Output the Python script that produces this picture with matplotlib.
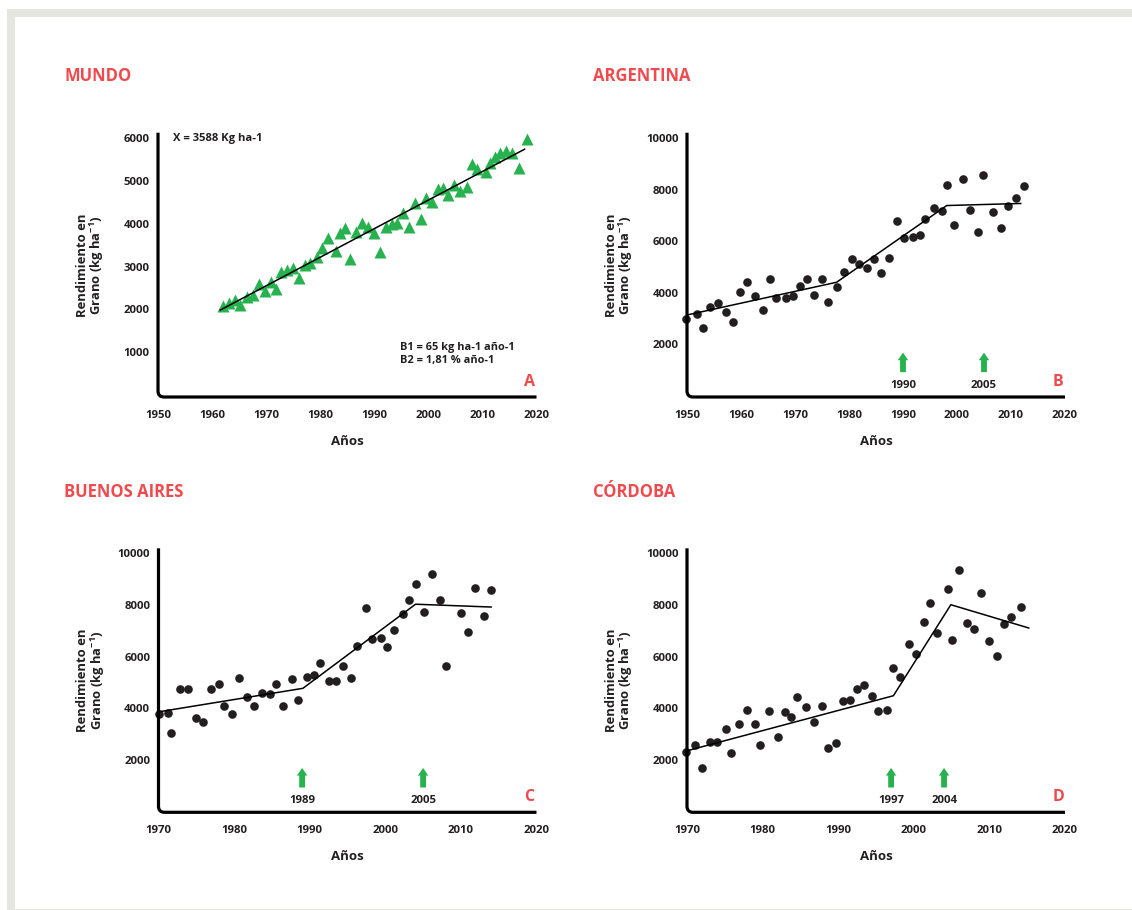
import matplotlib
matplotlib.use("Agg")
import matplotlib.pyplot as plt
import matplotlib.transforms as mtransforms
from matplotlib.path import Path
from matplotlib.patches import PathPatch, Rectangle

plt.rcParams["font.family"] = ["Open Sans", "DejaVu Sans"]
plt.rcParams["font.weight"] = "bold"
plt.rcParams["mathtext.fontset"] = "custom"
plt.rcParams["mathtext.rm"] = "Open Sans:bold"
plt.rcParams["mathtext.it"] = "Open Sans:bold"
plt.rcParams["mathtext.bf"] = "Open Sans:bold"

# ---------------- data ----------------
# A - Mundo (world maize grain yield, kg/ha)
mundo_years = [1962.1, 1963.2, 1964.3, 1965.2, 1966.4, 1967.6, 1968.6, 1969.7, 1970.9, 1971.8,
               1972.8, 1973.9, 1974.9, 1976.0, 1977.2, 1978.1, 1979.4, 1980.3, 1981.5, 1982.9,
               1983.6, 1984.6, 1985.6, 1986.7, 1987.8, 1988.9, 1990.0, 1991.1, 1992.2, 1993.3,
               1994.2, 1995.4, 1996.5, 1997.6, 1998.6, 1999.6, 2000.7, 2001.7, 2002.8, 2003.6,
               2004.8, 2005.9, 2007.2, 2008.1, 2009.0, 2010.7, 2011.4, 2012.4, 2013.3, 2014.4,
               2015.5, 2016.7, 2018.3]
mundo_yield = [2077, 2140, 2218, 2101, 2295, 2335, 2585, 2428, 2646, 2475,
               2866, 2920, 2959, 2725, 3037, 3076, 3216, 3427, 3661, 3364,
               3792, 3909, 3177, 3801, 4026, 3932, 3777, 3348, 3918, 3988,
               4011, 4245, 3932, 4479, 4105, 4610, 4503, 4814, 4830, 4674,
               4907, 4775, 4861, 5392, 5282, 5220, 5415, 5555, 5649, 5703,
               5649, 5313, 5977]
mundo_fit_x = [1961.5, 2017.8]
mundo_fit_y = [1984, 5745]

# B - Argentina
arg_years = [1949.9, 1951.9, 1953.0, 1954.2, 1955.7, 1957.2, 1958.5, 1959.9, 1961.2, 1962.6,
             1964.0, 1965.4, 1966.5, 1968.3, 1969.6, 1970.9, 1972.2, 1973.6, 1975.0, 1976.1,
             1977.7, 1979.0, 1980.5, 1981.9, 1983.3, 1984.6, 1986.0, 1987.5, 1988.8, 1990.1,
             1991.9, 1993.1, 1994.1, 1995.7, 1997.2, 1998.1, 1999.4, 2001.1, 2002.5, 2003.8,
             2004.8, 2006.6, 2008.1, 2009.4, 2011.0, 2012.5]
arg_yield = [2972, 3179, 2635, 3451, 3607, 3257, 2868, 4022, 4411, 3854,
             3322, 4528, 3777, 3777, 3867, 4256, 4516, 3906, 4528, 3633,
             4204, 4800, 5294, 5111, 4968, 5306, 4761, 5333, 6783, 6134,
             6173, 6239, 6873, 7277, 7184, 8184, 6615, 8429, 7223, 6367,
             8572, 7145, 6500, 7379, 7666, 8156]
arg_fit_x = [1950.0, 1977.7, 1998.1, 2011.8]
arg_fit_y = [3128, 4400, 7385, 7465]
arg_breaks = [1990, 2005]

# C - Buenos Aires
ba_years = [1970.1, 1971.2, 1971.7, 1972.9, 1973.9, 1974.9, 1975.9, 1976.9, 1978.0, 1978.6,
            1979.7, 1980.6, 1981.7, 1982.6, 1983.7, 1984.7, 1985.6, 1986.5, 1987.6, 1988.4,
            1989.6, 1990.6, 1991.4, 1992.5, 1993.5, 1994.4, 1995.5, 1996.3, 1997.5, 1998.3,
            1999.4, 2000.2, 2001.2, 2002.4, 2003.2, 2004.1, 2005.1, 2006.2, 2007.2, 2008.0,
            2010.0, 2011.0, 2011.9, 2013.0, 2014.0]
ba_yield = [3780, 3807, 3032, 4748, 4735, 3638, 3483, 4748, 4929, 4101,
            3768, 5173, 4426, 4101, 4606, 4542, 4929, 4101, 5122, 4310,
            5225, 5290, 5742, 5069, 5069, 5638, 5161, 6424, 7871, 6671,
            6733, 6385, 7031, 7638, 8192, 8811, 7715, 9198, 8192, 5649,
            7677, 6954, 8668, 7573, 8579]
ba_fit_x = [1970.1, 1989.1, 2004.0, 2014.0]
ba_fit_y = [3869, 4775, 8030, 7921]
ba_breaks = [1989, 2005]

# D - Córdoba
cba_years = [1969.9, 1971.0, 1972.0, 1973.1, 1974.0, 1975.1, 1975.8, 1976.9, 1977.9, 1979.0,
             1979.7, 1980.8, 1982.0, 1982.9, 1983.7, 1984.6, 1985.7, 1986.8, 1987.8, 1988.6,
             1989.7, 1990.6, 1991.5, 1992.5, 1993.4, 1994.5, 1995.3, 1996.5, 1997.2, 1998.2,
             1999.3, 2000.3, 2001.3, 2002.1, 2003.1, 2004.5, 2005.0, 2006.0, 2007.1, 2008.0,
             2008.9, 2010.0, 2011.0, 2011.9, 2012.9, 2014.2]
cba_yield = [2321, 2580, 1679, 2684, 2684, 3200, 2283, 3393, 3935, 3380,
             2580, 3896, 2903, 3870, 3651, 4451, 4039, 3483, 4101, 2477,
             2645, 4283, 4310, 4759, 4903, 4488, 3896, 3935, 5549, 5212,
             6478, 6102, 7352, 8064, 6927, 8618, 6632, 9341, 7290, 7070,
             8475, 6605, 6025, 7263, 7546, 7933]
cba_fit_x = [1969.9, 1997.3, 2004.9, 2015.2]
cba_fit_y = [2350, 4488, 8010, 7110]
cba_breaks = [1997, 2004]

titles = ["MUNDO", "ARGENTINA", "BUENOS AIRES", "CÓRDOBA"]
letters = ["A", "B", "C", "D"]
ticks_x_long = [1950, 1960, 1970, 1980, 1990, 2000, 2010, 2020]
ticks_x_short = [1970, 1980, 1990, 2000, 2010, 2020]
ticks_y_mundo = [1000, 2000, 3000, 4000, 5000, 6000]
ticks_y_region = [2000, 4000, 6000, 8000, 10000]

# ---------------- style ----------------
RED = "#EF4B4F"
GREEN = "#27B24F"
DARK = "#231F20"
FRAME = "#E6E6E1"
TICK_FS = 8.2

W, H = 1132, 910
fig = plt.figure(figsize=(W / 100, H / 100), dpi=100)


def fx(x):
    return x / W


def fy(y):
    return 1 - y / H


# light grey page frame
fig.patches.append(Rectangle((fx(7.3), 0), 1, fy(9.3), transform=fig.transFigure,
                             facecolor=FRAME, edgecolor="none", zorder=-10))
fig.patches.append(Rectangle((fx(15.3), fy(908.5)), 1, fy(17.3) - fy(908.5),
                             transform=fig.transFigure, facecolor="white",
                             edgecolor="none", zorder=-9))

panels = [
    dict(box=(158, 132.7, 536.5, 397), xlim=(1950, 2020), ylim=(-47, 6131),
         xt=ticks_x_long, yt=ticks_y_mundo, x=mundo_years, y=mundo_yield,
         fx_=mundo_fit_x, fy_=mundo_fit_y, breaks=[], marker="^", color=GREEN, ms=8.6,
         title_pos=(64.5, 76)),
    dict(box=(687, 132.7, 1065, 397), xlim=(1950, 2020), ylim=(-62, 10218),
         xt=ticks_x_long, yt=ticks_y_region, x=arg_years, y=arg_yield,
         fx_=arg_fit_x, fy_=arg_fit_y, breaks=arg_breaks, marker="o", color=DARK, ms=6.2,
         title_pos=(592.5, 76)),
    dict(box=(158.5, 548.3, 536.5, 812.3), xlim=(1970, 2020), ylim=(-23, 10194),
         xt=ticks_x_short, yt=ticks_y_region, x=ba_years, y=ba_yield,
         fx_=ba_fit_x, fy_=ba_fit_y, breaks=ba_breaks, marker="o", color=DARK, ms=6.2,
         title_pos=(64.5, 491.7)),
    dict(box=(687, 548.3, 1065, 812.3), xlim=(1970, 2020), ylim=(-23, 10194),
         xt=ticks_x_short, yt=ticks_y_region, x=cba_years, y=cba_yield,
         fx_=cba_fit_x, fy_=cba_fit_y, breaks=cba_breaks, marker="o", color=DARK, ms=6.2,
         title_pos=(592.5, 491.7)),
]

for i, p in enumerate(panels):
    x0, y0, x1, y1 = p["box"]
    ax = fig.add_axes([fx(x0), fy(y1), fx(x1 - x0), (y1 - y0) / H])
    ax.set_xlim(*p["xlim"])
    ax.set_ylim(*p["ylim"])
    ax.set_xticks(p["xt"])
    ax.set_yticks(p["yt"])
    ax.tick_params(axis="both", length=0, labelsize=TICK_FS, colors=DARK)
    ax.tick_params(axis="x", pad=9.5)
    ax.tick_params(axis="y", pad=6)
    for lab in ax.get_xticklabels() + ax.get_yticklabels():
        lab.set_fontweight("bold")
    for s in ax.spines.values():
        s.set_visible(False)
    ax.patch.set_alpha(0)

    # L-shaped axis with a rounded corner
    wpx, hpx = x1 - x0, y1 - y0
    r = 6.0
    verts = [(0, 1), (0, r / hpx), (0, 0), (r / wpx, 0), (1, 0)]
    codes = [Path.MOVETO, Path.LINETO, Path.CURVE3, Path.CURVE3, Path.LINETO]
    ax.add_patch(PathPatch(Path(verts, codes), fill=False, lw=2.3, edgecolor="black",
                           transform=ax.transAxes, clip_on=False, capstyle="butt",
                           joinstyle="round", zorder=5))

    ax.plot(p["x"], p["y"], linestyle="none", marker=p["marker"], ms=p["ms"],
            color=p["color"], mec="none", clip_on=False, zorder=3)
    ax.plot(p["fx_"], p["fy_"], color="black", lw=1.1, zorder=4, clip_on=False)

    blend = mtransforms.blended_transform_factory(ax.transData, ax.transAxes)
    for yr in p["breaks"]:
        ax.annotate("", xy=(yr, 0.168), xycoords=blend, xytext=(yr, 0.094), textcoords=blend,
                    arrowprops=dict(arrowstyle="simple,head_length=0.55,head_width=0.75,tail_width=0.42",
                                    facecolor=GREEN, edgecolor="none", mutation_scale=10,
                                    shrinkA=0, shrinkB=0))
        ax.text(yr, 0.045, str(yr), transform=blend, ha="center", va="center",
                fontsize=TICK_FS, fontweight="bold", color=DARK)

    tx, ty = p["title_pos"]
    fig.text(fx(tx), fy(ty), titles[i], ha="left", va="center", fontsize=12,
             fontweight="bold", color=RED)
    fig.text(fx(x1 - 7), fy(y1 - 15.3), letters[i], ha="center", va="center",
             fontsize=11.5, fontweight="bold", color=RED)
    fig.text(fx((x0 + x1) / 2), fy(y1 + 44.7), "Años", ha="center", va="center",
             fontsize=9.5, fontweight="bold", color=DARK)
    fig.text(fx(x0 - 67), fy((y0 + y1) / 2), "Rendimiento en\nGrano (kg ha$^{-1}$)",
             rotation=90, ha="center", va="center", multialignment="center",
             fontsize=9.4, fontweight="bold", color=DARK, linespacing=0.95)

# statistics printed inside the world panel
fig.text(fx(173), fy(138.3), "X = 3588 Kg ha-1", ha="left", va="center",
         fontsize=8.1, fontweight="bold", color=DARK)
fig.text(fx(399.5), fy(347.3), "B1 = 65 kg ha-1 año-1", ha="left", va="center",
         fontsize=7.9, fontweight="bold", color=DARK)
fig.text(fx(399.5), fy(360.7), "B2 = 1,81 % año-1", ha="left", va="center",
         fontsize=7.9, fontweight="bold", color=DARK)

fig.savefig("out.png", dpi=100)
